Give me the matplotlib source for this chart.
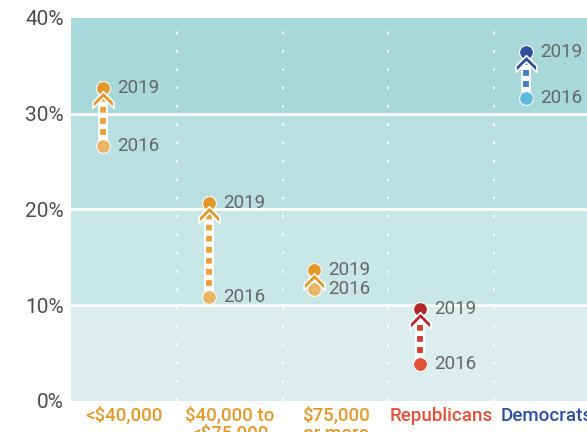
import matplotlib
matplotlib.use("Agg")
import matplotlib.pyplot as plt
from matplotlib.path import Path
from matplotlib.transforms import offset_copy

plt.rcParams['font.family'] = ['Roboto', 'DejaVu Sans']

categories = ["<$40,000", "$40,000 to\n<$75,000", "$75,000\nor more", "Republicans", "Democrats"]
values_2016 = [26.6, 10.9, 11.7, 3.9, 31.6]
values_2019 = [32.7, 20.7, 13.7, 9.6, 36.4]
yticks = [0, 10, 20, 30, 40]
ytick_labels = ["0%", "10%", "20%", "30%", "40%"]

label_colors = ["#e39a2b", "#e39a2b", "#e39a2b", "#e4503a", "#2e4fa0"]
dot2019_colors = ["#e3982a", "#e3982a", "#e3982a", "#b3282b", "#2f4f9f"]
dot2016_colors = ["#e9b566", "#e9b566", "#e9b566", "#e4503a", "#5cb9df"]
line_colors = ["#e9a23a", "#e9a23a", "#e9a23a", "#d23d32", "#3f7fc1"]
band_colors = ["#dbeeed", "#cae7e7", "#badfe0", "#a8d8da"]

fig = plt.figure(figsize=(5.87, 4.32), dpi=100)
ax = fig.add_axes([71/587, 1-401/432, (600-71)/587, (401-18)/432])
ax.set_xlim(-0.5, 4.5)
ax.set_ylim(0, 40)

for i, c in enumerate(band_colors):
    ax.axhspan(yticks[i], yticks[i+1], color=c, lw=0, zorder=0)
for y in yticks[1:-1]:
    ax.axhline(y, color="white", lw=2, zorder=1)
for k in range(len(categories) - 1):
    ax.axvline(k + 0.5, color="white", lw=1.5, ls=(0, (1.3, 7.5)), alpha=0.9, zorder=1)

chev = Path([(-1, -0.35), (0, 0.65), (1, -0.35), (1, -0.95), (0, 0.05), (-1, -0.95), (-1, -0.35)],
            [Path.MOVETO] + [Path.LINETO] * 5 + [Path.CLOSEPOLY])

chev_tr = offset_copy(ax.transData, fig=fig, y=-7.0, units='points')
off = -0.2
for i in range(len(categories)):
    x = i + off
    v16, v19 = values_2016[i], values_2019[i]
    ax.plot([x, x], [v16, v19], color="white", lw=7.0, solid_capstyle="butt", zorder=2)
    ax.plot([x, x], [v16, v19], color=line_colors[i], lw=4.2, ls=(0, (1, 0.9)),
            solid_capstyle="butt", zorder=3)
    ax.plot([x], [v16], 'o', ms=10, color=dot2016_colors[i], mec="white", mew=0.8, zorder=4)
    ax.plot([x], [v19], 'o', ms=10, color=dot2019_colors[i], mec="white", mew=0.8, zorder=4)
    ax.plot([x], [v19], marker=chev, ms=15, color=dot2019_colors[i], mec="white", mew=1.2,
            zorder=5, transform=chev_tr)
    ax.text(x + 0.135, v19, "2019", fontsize=13.5, color="#666666", va="center", ha="left", zorder=6)
    ax.text(x + 0.135, v16, "2016", fontsize=13.5, color="#666666", va="center", ha="left", zorder=6)

ax.set_yticks(yticks)
ax.set_yticklabels(ytick_labels, fontsize=15, color="#4d4d4d")
ax.set_xticks(range(len(categories)))
ax.set_xticklabels(categories, fontsize=13.5, fontweight="medium", va="top", linespacing=1.0)
for lab, c in zip(ax.get_xticklabels(), label_colors):
    lab.set_color(c)
ax.tick_params(axis="both", length=0)
ax.tick_params(axis="y", pad=5)
ax.tick_params(axis="x", pad=4)
for s in ax.spines.values():
    s.set_visible(False)

fig.savefig("out.png", dpi=100)
